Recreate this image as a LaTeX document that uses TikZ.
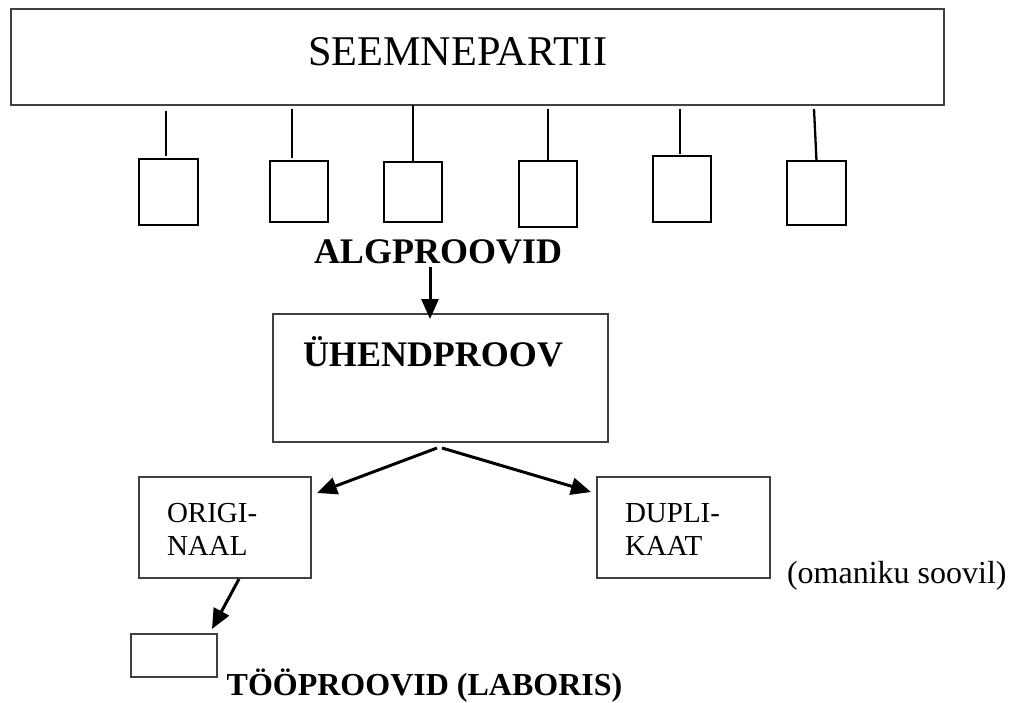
\documentclass[tikz,border=0pt]{standalone}
\usepackage{fontspec}
\setmainfont{Liberation Serif}
\usetikzlibrary{arrows.meta,calc}
\begin{document}
\begin{tikzpicture}[x=1pt,y=-1pt,
  thinbox/.style={draw=black!75, line width=1.3pt, inner sep=0pt, outer sep=0pt},
  smallbox/.style={draw=black, line width=2.6pt, inner sep=0pt, outer sep=0pt},
  stem/.style={draw=black, line width=2.3pt},
  arr/.style={draw=black, line width=3pt, -{Triangle[length=20pt,width=17pt]}},
  txt/.style={inner sep=0pt, outer sep=0pt, anchor=base west},
]
\useasboundingbox (0,0) rectangle (1012,702);
% top box
\node[thinbox, minimum width=933pt, minimum height=96pt] (top) at (477.5,57) {};
\node[txt, font=\fontsize{42.3}{50}\selectfont] (seem) at (308,65) {SEEMNEPARTII};
% small boxes
\node[smallbox, minimum width=59pt, minimum height=66pt] (b1) at (168.5,192) {};
\node[smallbox, minimum width=58pt, minimum height=61pt] (b2) at (299,191.5) {};
\node[smallbox, minimum width=58pt, minimum height=60pt] (b3) at (413,192) {};
\node[smallbox, minimum width=58pt, minimum height=66pt] (b4) at (548,194) {};
\node[smallbox, minimum width=58pt, minimum height=66pt] (b5) at (682,189) {};
\node[smallbox, minimum width=59pt, minimum height=64pt] (b6) at (816.5,193) {};
% stems
\coordinate (t1) at (166,111);
\coordinate (t2) at (292,109);
\coordinate (t4) at (548,109);
\coordinate (t5) at (680,109);
\coordinate (t6) at (814,109);
\draw[stem, shorten >=3pt] (t1) -- (t1 |- b1.north);
\draw[stem, shorten >=3pt] (t2) -- (t2 |- b2.north);
\draw[stem] (b3.north |- top.south) -- (b3.north);
\draw[stem] (t4) -- (t4 |- b4.north);
\draw[stem, shorten >=2pt] (t5) -- (t5 |- b5.north);
\draw[stem] (t6) -- (b6.north);
% ALGPROOVID
\node[txt, font=\bfseries\fontsize{36}{42}\selectfont] (alg) at (314,263) {ALGPROOVID};
% Uhendproov
\node[thinbox, minimum width=335pt, minimum height=128pt] (uh) at (440.5,378) {};
\node[txt, font=\bfseries\fontsize{36}{42}\selectfont] (uht) at (303,366) {ÜHENDPROOV};
\coordinate (a1) at (430,267);
\draw[arr] (a1) -- ([yshift=-5pt]a1 |- uh.north);
% original / duplikaat
\node[thinbox, minimum width=172pt, minimum height=101pt] (orig) at (225,527.5) {};
\node[txt, align=left, font=\fontsize{29}{33}\selectfont] (origt) at (167,555.5) {ORIGI-\\NAAL};
\node[thinbox, minimum width=173pt, minimum height=101pt] (dup) at (683.5,527.5) {};
\node[txt, align=left, font=\fontsize{29}{33}\selectfont] (dupt) at (625,555) {DUPLI-\\KAAT};
\node[txt, font=\fontsize{32}{38}\selectfont] (own) at (787,583) {(omaniku soovil)};
\draw[arr] ([shift={(-3.5,6)}]uh.south) -- ([shift={(6,16)}]orig.north east);
\draw[arr] ([shift={(1.5,6)}]uh.south) -- ([shift={(-6,15)}]dup.north west);
% tooproovid
\node[thinbox, minimum width=86pt, minimum height=43pt] (work) at (174,655.5) {};
\draw[arr] ([shift={(14,1)}]orig.south) -- ([shift={(-5,-5)}]work.north east);
\node[txt, font=\bfseries\fontsize{32}{38}\selectfont] (workt) at (226.7,695) {TÖÖPROOVID (LABORIS)};
\end{tikzpicture}
\end{document}
